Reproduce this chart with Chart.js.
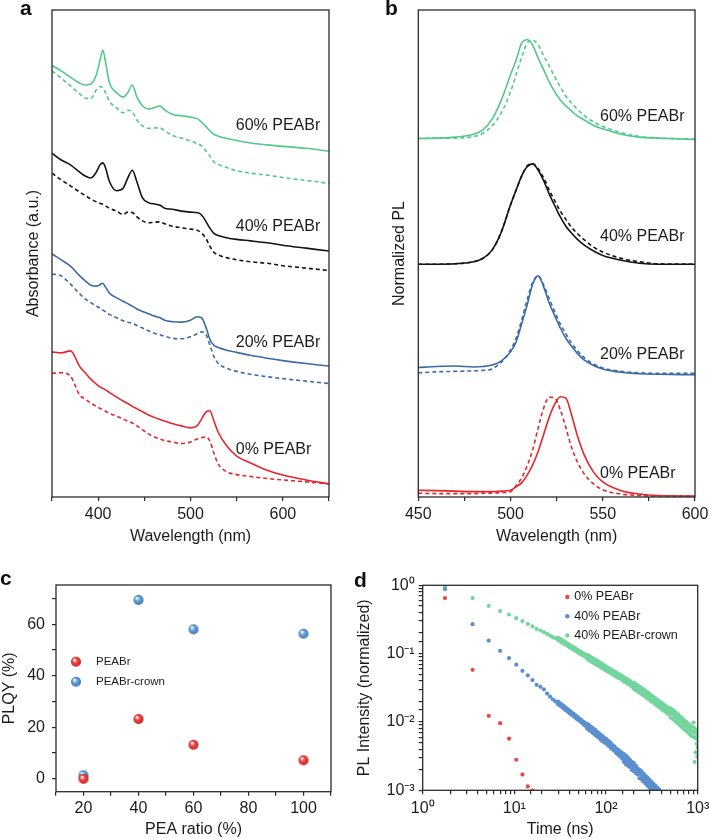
<!DOCTYPE html>
<html>
<head>
<meta charset="utf-8">
<script src="https://cdn.jsdelivr.net/npm/chart.js@4.4.1/dist/chart.umd.min.js"></script>
<style>
body { margin: 0; background: #fff; width: 709px; height: 839px; position: relative; overflow: hidden; }
canvas { position: absolute; }
.tag { position: absolute; font: bold 21px 'Liberation Sans', Arial, sans-serif; line-height: 20px; color: #111; }
</style>
</head>
<body>
<canvas id="chartA" width="350" height="560" style="left:0;top:0"></canvas>
<canvas id="chartB" width="359" height="560" style="left:350px;top:0"></canvas>
<canvas id="chartC" width="350" height="274" style="left:0;top:565px"></canvas>
<canvas id="chartD" width="359" height="274" style="left:350px;top:565px"></canvas>
<div class="tag" style="left:20px;top:-2px">a</div>
<div class="tag" style="left:385px;top:-2px">b</div>
<div class="tag" style="left:0;top:568px">c</div>
<div class="tag" style="left:354px;top:570px">d</div>
<script>
// ---- panel a: absorbance (a.u., curves offset) ----
const absWavelength = [350, 360, 370, 380, 386, 392, 398, 402, 405, 408, 412, 420, 427, 432, 437, 442, 448, 455, 460, 467, 472, 480, 490, 500, 507, 512, 517, 521, 525, 530, 540, 550, 565, 583, 600, 625, 650];
const abs60Solid = [88.6, 87.5, 86.2, 85.0, 84.6, 84.8, 86.7, 89.7, 91.8, 89.3, 85.2, 83.0, 82.1, 83.0, 84.6, 82.1, 80.3, 79.7, 79.9, 80.3, 79.5, 78.6, 78.3, 78.0, 77.7, 77.0, 76.0, 75.2, 74.5, 74.1, 73.6, 73.2, 72.7, 72.3, 72.0, 71.6, 71.0];
const abs60Dash = [87.5, 86.0, 84.4, 82.8, 81.9, 81.8, 83.6, 84.3, 84.0, 83.0, 81.3, 79.9, 78.9, 79.4, 79.1, 77.4, 76.2, 75.7, 75.8, 75.8, 75.2, 74.3, 73.7, 73.1, 72.6, 72.1, 71.0, 70.0, 68.9, 68.3, 67.6, 67.0, 66.5, 66.1, 65.6, 65.0, 64.4];
const abs40Solid = [70.6, 69.2, 68.2, 66.7, 65.9, 65.5, 66.7, 68.2, 68.6, 67.6, 64.9, 62.9, 63.4, 65.5, 67.1, 64.7, 61.4, 60.4, 60.2, 59.9, 59.3, 59.1, 58.7, 58.5, 58.4, 57.9, 56.5, 55.2, 54.2, 53.7, 53.2, 52.9, 52.6, 52.2, 51.7, 51.1, 50.5];
const abs40Dash = [66.5, 65.1, 63.9, 62.6, 61.9, 61.2, 60.6, 60.3, 60.1, 59.8, 59.3, 58.7, 58.0, 58.5, 58.4, 57.5, 56.7, 56.3, 56.4, 56.5, 56.1, 55.6, 55.3, 55.0, 54.8, 54.2, 53.0, 51.5, 50.3, 49.7, 49.1, 48.7, 48.3, 48.0, 47.5, 47.0, 46.5];
const abs20Solid = [49.9, 48.7, 47.4, 45.4, 44.4, 43.5, 43.3, 43.6, 43.9, 43.1, 41.9, 40.9, 40.2, 39.7, 39.2, 38.6, 38.1, 37.6, 37.2, 36.8, 36.3, 36.0, 35.9, 36.3, 37.0, 36.8, 34.7, 32.4, 31.2, 30.7, 30.1, 29.7, 29.1, 28.5, 28.0, 27.4, 26.9];
const abs20Dash = [45.8, 45.4, 43.7, 41.7, 40.7, 39.9, 39.2, 38.8, 38.4, 38.0, 37.5, 36.8, 36.2, 35.9, 35.7, 35.2, 34.7, 34.1, 33.7, 33.3, 33.0, 32.6, 32.5, 32.9, 33.5, 33.9, 33.3, 31.2, 29.0, 27.4, 26.4, 25.8, 25.2, 24.7, 24.3, 23.8, 23.3];
const abs0Solid = [29.8, 29.6, 30.0, 26.8, 25.5, 24.2, 23.2, 22.6, 22.3, 22.0, 21.5, 20.5, 19.7, 19.2, 18.6, 18.1, 17.5, 16.8, 16.4, 15.9, 15.6, 15.1, 14.6, 14.2, 14.6, 16.0, 17.5, 17.7, 15.8, 13.3, 10.3, 8.4, 7.0, 5.5, 4.5, 3.5, 2.7];
const abs0Dash = [25.4, 25.5, 24.8, 20.9, 20.1, 19.3, 18.6, 18.2, 17.9, 17.6, 17.2, 16.6, 16.0, 15.6, 15.2, 14.6, 13.8, 12.9, 12.4, 11.9, 11.6, 11.3, 11.0, 11.3, 11.9, 12.2, 12.3, 11.5, 9.2, 6.8, 5.1, 4.6, 4.2, 3.8, 3.5, 3.1, 2.7];
const absTicks = [350, 400, 450, 500, 550, 600, 650];

// ---- panel b: normalized PL (offset) ----
const plWavelength = [450, 460, 470, 480, 485, 490, 495, 500, 503, 506, 509, 512, 515, 518, 521, 524, 527, 530, 533, 536, 540, 545, 550, 560, 570, 580, 600];
const pl60Solid = [73.6, 73.7, 73.9, 74.5, 75.4, 77.6, 81.5, 86.7, 89.7, 93.2, 93.9, 92.8, 90.1, 87.7, 85.2, 83.2, 81.5, 80.3, 79.3, 78.3, 77.4, 76.3, 75.6, 74.5, 73.9, 73.7, 73.4];
const pl60Dash = [73.6, 73.7, 73.7, 74.0, 74.7, 76.2, 78.9, 83.2, 86.7, 90.3, 93.2, 93.8, 92.8, 90.6, 88.5, 86.2, 84.2, 82.3, 80.9, 79.7, 78.3, 77.0, 76.1, 74.8, 74.0, 73.7, 73.5];
const pl40Solid = [47.8, 47.8, 47.9, 48.3, 49.0, 50.7, 54.4, 60.0, 63.0, 65.9, 67.8, 68.4, 67.1, 64.9, 62.2, 59.8, 57.5, 55.6, 54.2, 53.0, 51.7, 50.5, 49.6, 48.6, 48.0, 47.8, 47.8];
const pl40Dash = [47.8, 47.8, 47.9, 48.3, 49.0, 50.7, 54.4, 60.0, 63.0, 65.9, 68.0, 68.4, 67.4, 65.5, 63.0, 60.8, 58.7, 57.0, 55.4, 54.2, 52.8, 51.3, 50.3, 49.0, 48.3, 47.9, 47.8];
const pl20Solid = [26.6, 26.8, 26.9, 26.7, 26.8, 27.1, 27.9, 29.8, 31.8, 35.5, 39.4, 43.7, 45.4, 43.1, 39.8, 37.2, 34.7, 32.6, 31.0, 29.6, 28.1, 27.0, 26.3, 25.6, 25.3, 25.2, 25.1];
const pl20Dash = [25.5, 25.7, 25.8, 25.9, 26.0, 26.3, 27.7, 30.2, 32.6, 36.3, 40.5, 44.1, 45.4, 43.5, 40.7, 38.0, 35.5, 33.5, 31.6, 30.2, 28.6, 27.3, 26.5, 25.8, 25.5, 25.4, 25.4];
const pl0Solid = [1.4, 1.3, 1.2, 1.1, 1.1, 1.1, 1.2, 1.4, 2.1, 2.9, 4.5, 6.6, 9.4, 12.9, 16.4, 19.1, 20.6, 20.3, 17.0, 12.9, 8.6, 5.1, 3.1, 1.3, 0.6, 0.3, 0.2];
const pl0Dash = [0.8, 0.7, 0.7, 0.7, 0.8, 0.8, 0.9, 1.1, 2.3, 3.9, 6.4, 9.7, 14.2, 18.3, 20.5, 20.3, 17.9, 14.2, 10.3, 7.4, 4.7, 2.7, 1.5, 0.6, 0.3, 0.2, 0.2];
const plTicks = [450, 475, 500, 525, 550, 575, 600];

const sampleNames = ['60% PEABr', '40% PEABr', '20% PEABr', '0% PEABr'];

// ---- panel c: PLQY ----
const peaRatio = [20, 40, 60, 100];
const plqyPEABr = [0, 23.2, 13.2, 7.2];
const plqyCrown = [1.4, 69.4, 58.0, 56.3];
const ratioTicks = [10, 20, 30, 40, 50, 60, 70, 80, 90, 100, 110];
const plqyTicks = [0, 10, 20, 30, 40, 50, 60, 70];

// ---- panel d: PL decay ----
const earlyTime = [1.75, 3.5, 5.25, 7, 8.75, 10.5, 12.25, 14, 15.75, 17.5, 19.25, 21, 22.75, 24.5, 26.25, 28];
const decay0 = [0.65, 0.058, 0.0123, 0.0096, 0.0057, 0.0028, 0.0017, 0.00114, 0.00099];
const decay40Early = [0.88, 0.27, 0.155, 0.11, 0.086, 0.069, 0.056, 0.048, 0.041, 0.035, 0.0327, 0.030, 0.026, 0.0235, 0.0215, 0.0200];
const crownEarly = [0.95, 0.65, 0.50, 0.42, 0.374, 0.33, 0.30, 0.272, 0.25, 0.23, 0.218, 0.206, 0.195, 0.184, 0.175, 0.168];
const tailTime = [30, 31.5, 33, 34.7, 36.4, 38.2, 40.1, 42.1, 44.2, 46.4, 48.7, 51.1, 53.7, 56.4, 59.2,
  62.2, 65.3, 68.6, 72, 75.6, 79.4, 83.4, 87.6, 92, 96.6, 101, 106, 112, 117, 123, 129, 136, 143, 150, 157, 165, 173, 182, 191,
  201, 211, 221, 232, 244, 256, 269, 282, 296, 311, 327, 343, 360, 378, 397, 417, 438, 460, 483,
  507, 532, 559, 587, 616, 647, 679, 713, 749, 786, 825, 866, 909, 955, 1000];
const decay40TailHi = [0.0198, 0.0188, 0.0179, 0.0170, 0.0161, 0.0154, 0.0146, 0.0138, 0.0132, 0.0125, 0.0119, 0.0112, 0.0107, 0.0101, 0.0096,
  0.0094, 0.0090, 0.0085, 0.0081, 0.0077, 0.0072, 0.0069, 0.0065, 0.0062, 0.0058, 0.0056, 0.0053, 0.0050, 0.0046, 0.0044, 0.0041, 0.0039, 0.0037, 0.0035,
  0.0034, 0.0032, 0.0030, 0.0028, 0.0026, 0.0025, 0.0023, 0.0021, 0.0020, 0.0019, 0.00175, 0.00164, 0.00154, 0.00144, 0.00134, 0.00125, 0.00118, 0.0011, 0.00103, 0.00096];
const decay40TailMid = [0.0190, 0.0181, 0.0172, 0.0163, 0.0155, 0.0148, 0.0140, 0.0133, 0.0127, 0.0120, 0.0114, 0.0108, 0.0103, 0.0097, 0.0092,
  0.0087, 0.0083, 0.0079, 0.0075, 0.0071, 0.0067, 0.0064, 0.0060, 0.0057, 0.0054, 0.0052, 0.0049, 0.0046, 0.0043, 0.0041, 0.0038, 0.0036, 0.0034, 0.0032,
  0.0030, 0.0028, 0.00265, 0.00248, 0.00232, 0.00217, 0.00203, 0.0019, 0.00177, 0.00166, 0.00155, 0.00145, 0.00136, 0.00127, 0.00119, 0.00111, 0.00104, 0.00097, 0.00091, 0.00085];
const decay40TailLo = [0.0182, 0.0174, 0.0165, 0.0156, 0.0149, 0.0142, 0.0134, 0.0128, 0.0122, 0.0115, 0.0109, 0.0104, 0.0099, 0.0093, 0.0088,
  0.0080, 0.0076, 0.0073, 0.0069, 0.0065, 0.0062, 0.0059, 0.0055, 0.0052, 0.0050, 0.0048, 0.0045, 0.0042, 0.0040, 0.0038, 0.0035, 0.0033, 0.0031, 0.0029,
  0.0026, 0.0024, 0.0023, 0.0022, 0.0020, 0.0019, 0.0018, 0.0017, 0.0015, 0.00144, 0.00135, 0.00126, 0.00118, 0.0011, 0.00104, 0.00097, 0.0009, 0.00084, 0.00079, 0.00074];
const crownTailHi = [0.170, 0.164, 0.158, 0.152, 0.146, 0.140, 0.134, 0.129, 0.124, 0.119, 0.114, 0.110, 0.105, 0.101, 0.097,
  0.096, 0.092, 0.089, 0.085, 0.082, 0.079, 0.076, 0.073, 0.070, 0.067, 0.064, 0.062, 0.059, 0.057, 0.055, 0.053, 0.051, 0.049, 0.047, 0.045, 0.043, 0.042, 0.040, 0.038,
  0.0374, 0.0359, 0.0343, 0.0329, 0.0314, 0.0299, 0.0285, 0.0272, 0.0259, 0.0245, 0.0234, 0.0223, 0.0212, 0.0202, 0.0193, 0.0184, 0.0175, 0.0166, 0.0158,
  0.0158, 0.0151, 0.0143, 0.0135, 0.0127, 0.0120, 0.0113, 0.0106, 0.0100, 0.0094, 0.0089, 0.0084, 0.0082, 0.0078, 0.0075];
const crownTailMid = [0.164, 0.158, 0.152, 0.146, 0.140, 0.135, 0.129, 0.124, 0.119, 0.1146, 0.110, 0.1057, 0.1014, 0.0975, 0.0936,
  0.090, 0.0863, 0.083, 0.0796, 0.0766, 0.0735, 0.0706, 0.0679, 0.0652, 0.0627, 0.0601, 0.0578, 0.0556, 0.0535, 0.0514, 0.0494, 0.0475, 0.0457, 0.0440, 0.0423, 0.0406, 0.0388, 0.0372, 0.0356,
  0.0340, 0.0326, 0.0312, 0.0299, 0.0285, 0.0272, 0.0259, 0.0247, 0.0235, 0.0223, 0.0213, 0.0203, 0.0193, 0.0184, 0.0175, 0.0167, 0.0159, 0.0151, 0.0144,
  0.0137, 0.0131, 0.0124, 0.0117, 0.0110, 0.0104, 0.0098, 0.0092, 0.0087, 0.0082, 0.0077, 0.0073, 0.0071, 0.0068, 0.0065];
const crownTailLo = [0.158, 0.152, 0.146, 0.140, 0.135, 0.130, 0.124, 0.119, 0.114, 0.110, 0.106, 0.101, 0.097, 0.094, 0.090,
  0.084, 0.080, 0.077, 0.074, 0.071, 0.068, 0.066, 0.063, 0.061, 0.058, 0.056, 0.054, 0.052, 0.050, 0.048, 0.046, 0.044, 0.043, 0.041, 0.039, 0.038, 0.036, 0.035, 0.033,
  0.0306, 0.0293, 0.0281, 0.0269, 0.0257, 0.0245, 0.0233, 0.0222, 0.0212, 0.0201, 0.0192, 0.0183, 0.0174, 0.0166, 0.0158, 0.0150, 0.0143, 0.0136, 0.0130,
  0.0116, 0.0111, 0.0105, 0.0099, 0.0094, 0.0088, 0.0083, 0.0078, 0.0074, 0.0070, 0.0065, 0.0062, 0.0060, 0.0058, 0.0055];
const crownStrayTime = [900, 925, 950, 975, 990, 1000];
const crownStray = [0.0098, 0.0026, 0.0036, 0.0048, 0.0031, 0.0042];
const decayNames = ['0% PEABr', '40% PEABr', '40% PEABr-crown'];

// colours
const GREEN = '#52c98a';
const BLACK = '#141414';
const BLUE = '#3c6aa6';
const RED = '#e5262d';
const DOT_RED = '#ea4848';
const DOT_BLUE = '#5b8fcf';
const DOT_GREEN = '#74d59e';
const AXIS = '#2a2a2a';

Chart.defaults.font.family = "'Liberation Sans', Arial, sans-serif";
Chart.defaults.font.size = 16;
Chart.defaults.color = '#1c1c1c';

function pairs(xs, ys) {
  return ys.map((y, i) => ({ x: xs[i], y: y }));
}

function lineSet(xs, ys, color, dashed) {
  return {
    data: pairs(xs, ys),
    borderColor: color,
    borderWidth: 1.6,
    borderDash: dashed ? [4, 3] : [],
    pointRadius: 0,
    cubicInterpolationMode: 'monotone',
    fill: false
  };
}

// fixed axis sizes so the plot boxes land where the figure has them
function fitWidth(w) {
  return function(scale) {
    scale.width = w;
    scale.paddingLeft = 0; scale.paddingRight = 0; scale.paddingTop = 0; scale.paddingBottom = 0;
  };
}
function fitHeight(h) {
  return function(scale) {
    scale.height = h;
    scale.paddingLeft = 0; scale.paddingRight = 0; scale.paddingTop = 0; scale.paddingBottom = 0;
  };
}
function fixedTicks(values) {
  return function(scale) {
    scale.ticks = values.map(v => ({ value: v }));
  };
}

const tickGrid = { drawOnChartArea: false, drawTicks: true, tickLength: 4, color: AXIS, lineWidth: 1.2 };

// box round the plot area
const frameBox = {
  id: 'frameBox',
  afterDatasetsDraw(chart) {
    const a = chart.chartArea;
    const ctx = chart.ctx;
    ctx.save();
    ctx.strokeStyle = AXIS;
    ctx.lineWidth = 1.3;
    ctx.strokeRect(a.left, a.top, a.right - a.left, a.bottom - a.top);
    ctx.restore();
  }
};

// curve names placed in data coordinates
function curveLabels(names, xs, ys) {
  return {
    id: 'curveLabels',
    afterDatasetsDraw(chart) {
      const ctx = chart.ctx;
      ctx.save();
      ctx.font = "16px 'Liberation Sans', Arial, sans-serif";
      ctx.fillStyle = '#1c1c1c';
      ctx.textAlign = 'left';
      ctx.textBaseline = 'middle';
      names.forEach((name, i) => {
        ctx.fillText(name, chart.scales.x.getPixelForValue(xs[i]), chart.scales.y.getPixelForValue(ys[i]));
      });
      ctx.restore();
    }
  };
}

// legend drawn inside the plot
function innerLegend(names, marks, left, top, gap, fontSize) {
  return {
    id: 'innerLegend',
    afterDatasetsDraw(chart) {
      const ctx = chart.ctx;
      const a = chart.chartArea;
      ctx.save();
      ctx.font = fontSize + "px 'Liberation Sans', Arial, sans-serif";
      ctx.fillStyle = '#1c1c1c';
      ctx.textBaseline = 'middle';
      names.forEach((name, i) => {
        const y = a.top + top + i * gap;
        const mark = marks[i];
        if (typeof mark === 'string') {
          ctx.fillStyle = mark;
          ctx.beginPath();
          ctx.arc(a.left + left, y, 2.2, 0, Math.PI * 2);
          ctx.fill();
          ctx.fillStyle = '#1c1c1c';
          ctx.fillText(name, a.left + left + 7, y);
        } else {
          ctx.drawImage(mark, a.left + left - mark.width / 2, y - mark.height / 2);
          ctx.fillText(name, a.left + left + 20, y);
        }
      });
      ctx.restore();
    }
  };
}

// shaded ball marker for panel c
function makeBall(color, shade, r) {
  const c = document.createElement('canvas');
  c.width = c.height = r * 2 + 2;
  const g = c.getContext('2d');
  const grad = g.createRadialGradient(r + 1 - r * 0.35, r + 1 - r * 0.4, r * 0.1, r + 1, r + 1, r);
  grad.addColorStop(0, '#ffffff');
  grad.addColorStop(0.4, color);
  grad.addColorStop(1, shade);
  g.fillStyle = grad;
  g.beginPath();
  g.arc(r + 1, r + 1, r, 0, Math.PI * 2);
  g.fill();
  return c;
}

function superPow(v) {
  const map = { '-': '\u207B', '0': '\u2070', '1': '\u00B9', '2': '\u00B2', '3': '\u00B3' };
  const p = Math.round(Math.log10(v));
  if (Math.abs(Math.log10(v) - p) > 1e-6) return '';
  return '10' + String(p).split('').map(ch => map[ch]).join('');
}

// panel a
new Chart(document.getElementById('chartA'), {
  type: 'line',
  data: {
    datasets: [
      lineSet(absWavelength, abs60Solid, GREEN, false),
      lineSet(absWavelength, abs60Dash, GREEN, true),
      lineSet(absWavelength, abs40Solid, BLACK, false),
      lineSet(absWavelength, abs40Dash, BLACK, true),
      lineSet(absWavelength, abs20Solid, BLUE, false),
      lineSet(absWavelength, abs20Dash, BLUE, true),
      lineSet(absWavelength, abs0Solid, RED, false),
      lineSet(absWavelength, abs0Dash, RED, true)
    ]
  },
  options: {
    responsive: false,
    animation: false,
    layout: { padding: { left: 0, top: 10, right: 21, bottom: 0 } },
    plugins: { legend: { display: false }, tooltip: { enabled: false } },
    scales: {
      x: {
        type: 'linear', min: 350, max: 650,
        afterFit: fitHeight(63), afterBuildTicks: fixedTicks(absTicks),
        border: { display: false }, grid: tickGrid,
        ticks: { padding: 4, maxRotation: 0, autoSkip: false, callback: v => (v % 100 === 0 ? v : '') },
        title: { display: true, text: 'Wavelength (nm)', padding: { top: 0, bottom: 14 } }
      },
      y: {
        min: 0, max: 100,
        afterFit: fitWidth(52),
        border: { display: false }, grid: { display: false }, ticks: { display: false },
        title: { display: true, text: 'Absorbance (a.u.)', padding: { top: 24, bottom: 0 } }
      }
    }
  },
  plugins: [frameBox, curveLabels(sampleNames, [549, 549, 549, 549], [76.2, 55.5, 31.7, 9.7])]
});

// panel b
new Chart(document.getElementById('chartB'), {
  type: 'line',
  data: {
    datasets: [
      lineSet(plWavelength, pl60Solid, GREEN, false),
      lineSet(plWavelength, pl60Dash, GREEN, true),
      lineSet(plWavelength, pl40Solid, BLACK, false),
      lineSet(plWavelength, pl40Dash, BLACK, true),
      lineSet(plWavelength, pl20Solid, BLUE, false),
      lineSet(plWavelength, pl20Dash, BLUE, true),
      lineSet(plWavelength, pl0Solid, RED, false),
      lineSet(plWavelength, pl0Dash, RED, true)
    ]
  },
  options: {
    responsive: false,
    animation: false,
    layout: { padding: { left: 0, top: 10, right: 14, bottom: 0 } },
    plugins: { legend: { display: false }, tooltip: { enabled: false } },
    scales: {
      x: {
        type: 'linear', min: 450, max: 600,
        afterFit: fitHeight(63), afterBuildTicks: fixedTicks(plTicks),
        border: { display: false }, grid: tickGrid,
        ticks: { padding: 4, maxRotation: 0, autoSkip: false, callback: v => (v % 50 === 0 ? v : '') },
        title: { display: true, text: 'Wavelength (nm)', padding: { top: 0, bottom: 14 } }
      },
      y: {
        min: 0, max: 100,
        afterFit: fitWidth(68.3),
        border: { display: false }, grid: { display: false }, ticks: { display: false },
        title: { display: true, text: 'Normalized PL', padding: { top: 40.4, bottom: 0 } }
      }
    }
  },
  plugins: [frameBox, curveLabels(sampleNames, [548.5, 548.5, 548.5, 548.5], [78.2, 53.4, 29.2, 4.9])]
});

// panel c
const ballRed = makeBall('#ef4a4a', '#c42020', 5);
const ballBlue = makeBall('#6ea3da', '#3f74b0', 5);
new Chart(document.getElementById('chartC'), {
  type: 'scatter',
  data: {
    datasets: [
      { data: pairs(peaRatio, plqyPEABr), pointStyle: ballRed, pointRadius: 5 },
      { data: pairs(peaRatio, plqyCrown), pointStyle: ballBlue, pointRadius: 5 }
    ]
  },
  options: {
    responsive: false,
    animation: false,
    layout: { padding: { left: 0, top: 20, right: 19, bottom: 0 } },
    plugins: { legend: { display: false }, tooltip: { enabled: false } },
    scales: {
      x: {
        type: 'linear', min: 10, max: 110,
        afterFit: fitHeight(47.3), afterBuildTicks: fixedTicks(ratioTicks),
        border: { display: false }, grid: tickGrid,
        ticks: { padding: 3, maxRotation: 0, autoSkip: false, callback: v => (v % 20 === 0 && v > 10 && v < 110 ? v : '') },
        title: { display: true, text: 'PEA ratio (%)', padding: { top: 0, bottom: 0 } }
      },
      y: {
        type: 'linear', min: -5, max: 75.2,
        afterFit: fitWidth(56), afterBuildTicks: fixedTicks(plqyTicks),
        border: { display: false }, grid: tickGrid,
        ticks: { padding: 7, autoSkip: false, callback: v => (v % 20 === 0 ? v : '') },
        title: { display: true, text: 'PLQY (%)', padding: { top: 0, bottom: 0 } }
      }
    }
  },
  plugins: [frameBox, innerLegend(['PEABr', 'PEABr-crown'], [ballRed, ballBlue], 20, 76.7, 20, 11.5)]
});

// panel d
const dotSet = (points, color) => ({ data: points, backgroundColor: color, borderWidth: 0, pointRadius: 2.1, clip: 0 });
new Chart(document.getElementById('chartD'), {
  type: 'scatter',
  data: {
    datasets: [
      dotSet(pairs(earlyTime, decay0), DOT_RED),
      dotSet(pairs(earlyTime, decay40Early).concat(pairs(tailTime, decay40TailHi), pairs(tailTime, decay40TailMid), pairs(tailTime, decay40TailLo)), DOT_BLUE),
      dotSet(pairs(earlyTime, crownEarly).concat(pairs(tailTime, crownTailHi), pairs(tailTime, crownTailMid), pairs(tailTime, crownTailLo), pairs(crownStrayTime, crownStray)), DOT_GREEN)
    ]
  },
  options: {
    responsive: false,
    animation: false,
    layout: { padding: { left: 0, top: 20.3, right: 11.3, bottom: 0 } },
    plugins: { legend: { display: false }, tooltip: { enabled: false } },
    scales: {
      x: {
        type: 'logarithmic', min: 1, max: 1000,
        afterFit: fitHeight(48.7),
        border: { display: false }, grid: tickGrid,
        ticks: { padding: 5, maxRotation: 0, autoSkip: false, callback: v => superPow(v) },
        title: { display: true, text: 'Time (ns)', padding: { top: 0, bottom: 0 } }
      },
      y: {
        type: 'logarithmic', min: 0.001, max: 1,
        afterFit: fitWidth(72.7),
        border: { display: false }, grid: tickGrid,
        ticks: { padding: 4, autoSkip: false, callback: v => superPow(v) },
        title: { display: true, text: 'PL Intensity (normalized)', padding: { top: 5.4, bottom: 0 } }
      }
    }
  },
  plugins: [frameBox, innerLegend(decayNames, [DOT_RED, DOT_BLUE, DOT_GREEN], 144.6, 11.7, 19.2, 12.5)]
});
</script>
</body>
</html>
